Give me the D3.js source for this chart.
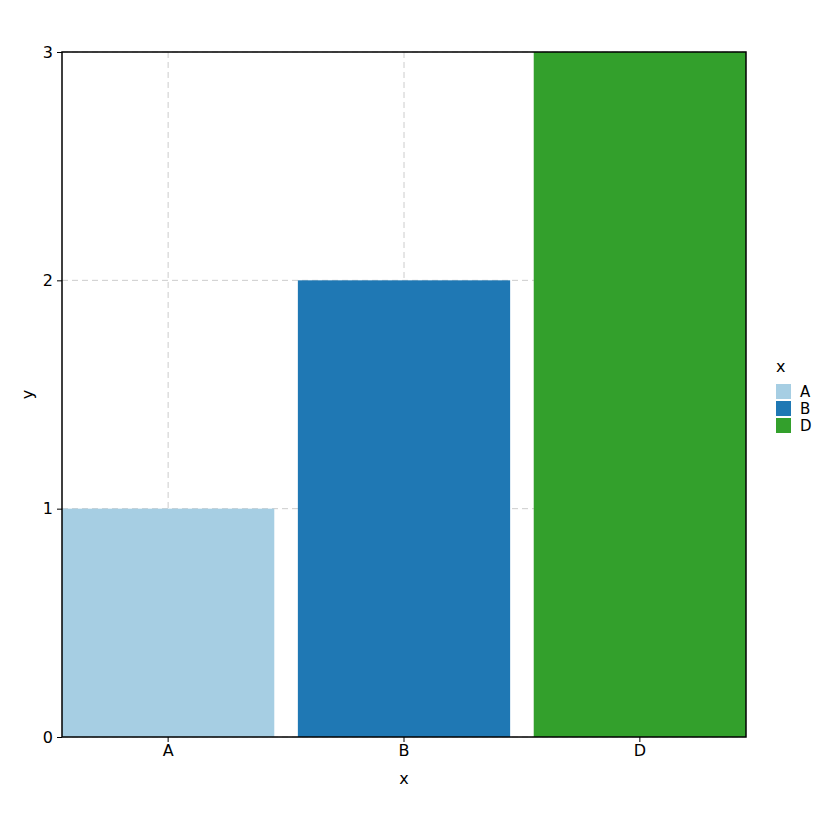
<!DOCTYPE html>
<html><head><meta charset="utf-8">
<script src="https://cdn.jsdelivr.net/npm/d3@7"></script>
<style>body{margin:0;background:#fff}text{font-family:"DejaVu Sans",sans-serif}</style>
</head><body><svg width="840" height="840"></svg>
<script>
var categories = ["A", "B", "D"];
var values = [1, 2, 3];
var colors = ["#a6cee3", "#1f78b4", "#33a02c"];
var yTicks = [0, 1, 2, 3];

var svg = d3.select("svg");
var pLeft = 62, pRight = 746, pTop = 52, pBottom = 737;

var x = d3.scaleBand().domain(categories).range([pLeft, pRight]).paddingInner(0.1).paddingOuter(0);
var y = d3.scaleLinear().domain([0, 3]).range([pBottom, pTop]);
var color = d3.scaleOrdinal().domain(categories).range(colors);

// grid
svg.selectAll(".gx").data(categories).enter().append("line")
  .attr("x1", d => x(d) + x.bandwidth() / 2).attr("x2", d => x(d) + x.bandwidth() / 2)
  .attr("y1", pTop).attr("y2", pBottom)
  .attr("stroke", "#cccccc").attr("stroke-dasharray", "6,4");
svg.selectAll(".gy").data(yTicks).enter().append("line")
  .attr("x1", pLeft).attr("x2", pRight).attr("y1", d => y(d)).attr("y2", d => y(d))
  .attr("stroke", "#cccccc").attr("stroke-dasharray", "6,4");

// bars
svg.selectAll(".bar").data(categories).enter().append("rect")
  .attr("x", d => x(d)).attr("width", x.bandwidth())
  .attr("y", (d, i) => y(values[i])).attr("height", (d, i) => y(0) - y(values[i]))
  .attr("fill", d => color(d));

// frame
svg.append("rect").attr("x", pLeft).attr("y", pTop).attr("width", pRight - pLeft).attr("height", pBottom - pTop)
  .attr("fill", "none").attr("stroke", "#000").attr("stroke-width", 1.5);

// axes
var ax = svg.append("g").attr("transform", "translate(0," + pBottom + ")")
  .call(d3.axisBottom(x).tickSize(5).tickPadding(3));
var ay = svg.append("g").attr("transform", "translate(" + pLeft + ",0)")
  .call(d3.axisLeft(y).tickValues(yTicks).tickFormat(d3.format("d")).tickSize(5).tickPadding(4));
[ax, ay].forEach(function (g) {
  g.select(".domain").remove();
  g.selectAll("text").attr("font-size", 16).attr("fill", "#000").style("font-family", "DejaVu Sans");
  g.selectAll("line").attr("stroke", "#000");
});

svg.append("text").attr("x", (pLeft + pRight) / 2).attr("y", 784).attr("text-anchor", "middle")
  .attr("font-size", 16).text("x");
svg.append("text").attr("transform", "translate(33," + (pTop + pBottom) / 2 + ") rotate(-90)")
  .attr("text-anchor", "middle").attr("font-size", 16).text("y");

// legend
var lg = svg.append("g").attr("transform", "translate(776,372)");
lg.append("text").attr("x", 0).attr("y", 0).attr("font-size", 16).text("x");
var items = lg.selectAll(".li").data(categories).enter().append("g")
  .attr("transform", (d, i) => "translate(0," + (12 + i * 17) + ")");
items.append("rect").attr("width", 15).attr("height", 15).attr("fill", d => color(d));
items.append("text").attr("x", 24).attr("y", 13).attr("font-size", 15).text(d => d);
</script></body></html>
